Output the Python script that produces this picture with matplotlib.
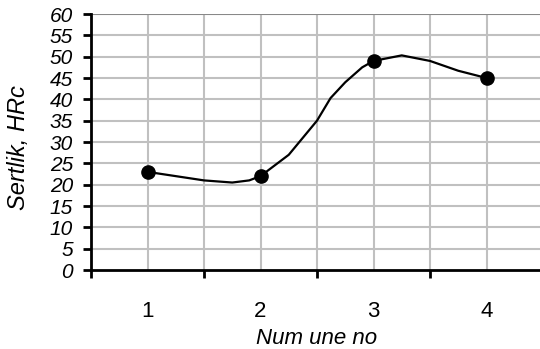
import numpy as np
import matplotlib.pyplot as plt

plt.rcParams['font.family'] = ['Liberation Sans', 'DejaVu Sans']

# sample numbers and hardness
samples = [1, 2, 3, 4]
hardness = [23, 22, 49, 45]

# smoothed curve
curve_x = [1, 1.25, 1.5, 1.75, 1.9, 2, 2.25, 2.5, 2.62, 2.75, 2.9, 3, 3.25, 3.5, 3.75, 4]
curve_y = [23, 22, 21, 20.5, 21, 22, 27, 35, 40.3, 44, 47.5, 49, 50.3, 49, 46.7, 45]

fig = plt.figure(figsize=(5.4, 3.49), dpi=100)
ax = fig.add_axes([91 / 540, 1 - 270 / 349, 452 / 540, 256 / 349])

ax.plot(curve_x, curve_y, color='black', lw=1.6, zorder=3)
ax.plot(samples, hardness, 'o', color='black', ms=9.5, zorder=4)

ax.set_xlim(0.5, 4.5)
ax.set_ylim(0, 60)

# grid
for x in np.arange(1, 4.6, 0.5):
    ax.axvline(x, color='#c0c0c0', lw=1.5, zorder=1)
for y in range(5, 60, 5):
    ax.axhline(y, color='#c0c0c0', lw=1.5, zorder=1)
ax.axhline(60, color='#888888', lw=1.5, zorder=1)

ax.spines['top'].set_visible(False)
ax.spines['right'].set_visible(False)
ax.spines['left'].set_linewidth(2)
ax.spines['bottom'].set_linewidth(2)

ax.set_yticks(range(0, 61, 5))
ax.set_yticklabels([str(v) for v in range(0, 61, 5)], fontstyle='italic', fontsize=15)
ax.tick_params(axis='y', direction='out', length=6, width=2, pad=7)

ax.set_xticks([0.5, 1.5, 2.5, 3.5, 4.5])
ax.set_xticklabels([])
ax.tick_params(axis='x', direction='out', length=6, width=2)
ax.set_xticks(samples, minor=True)
ax.set_xticklabels([str(s) for s in samples], minor=True, fontsize=16)
ax.tick_params(axis='x', which='minor', length=0, pad=22)

ax.set_xlabel('Num une no', fontstyle='italic', fontsize=16, labelpad=5)
ax.set_ylabel('Sertlik, HRc', fontstyle='italic', fontsize=17)
ax.yaxis.set_label_coords(-0.134, 0.48)

fig.savefig('out.png', dpi=100)
